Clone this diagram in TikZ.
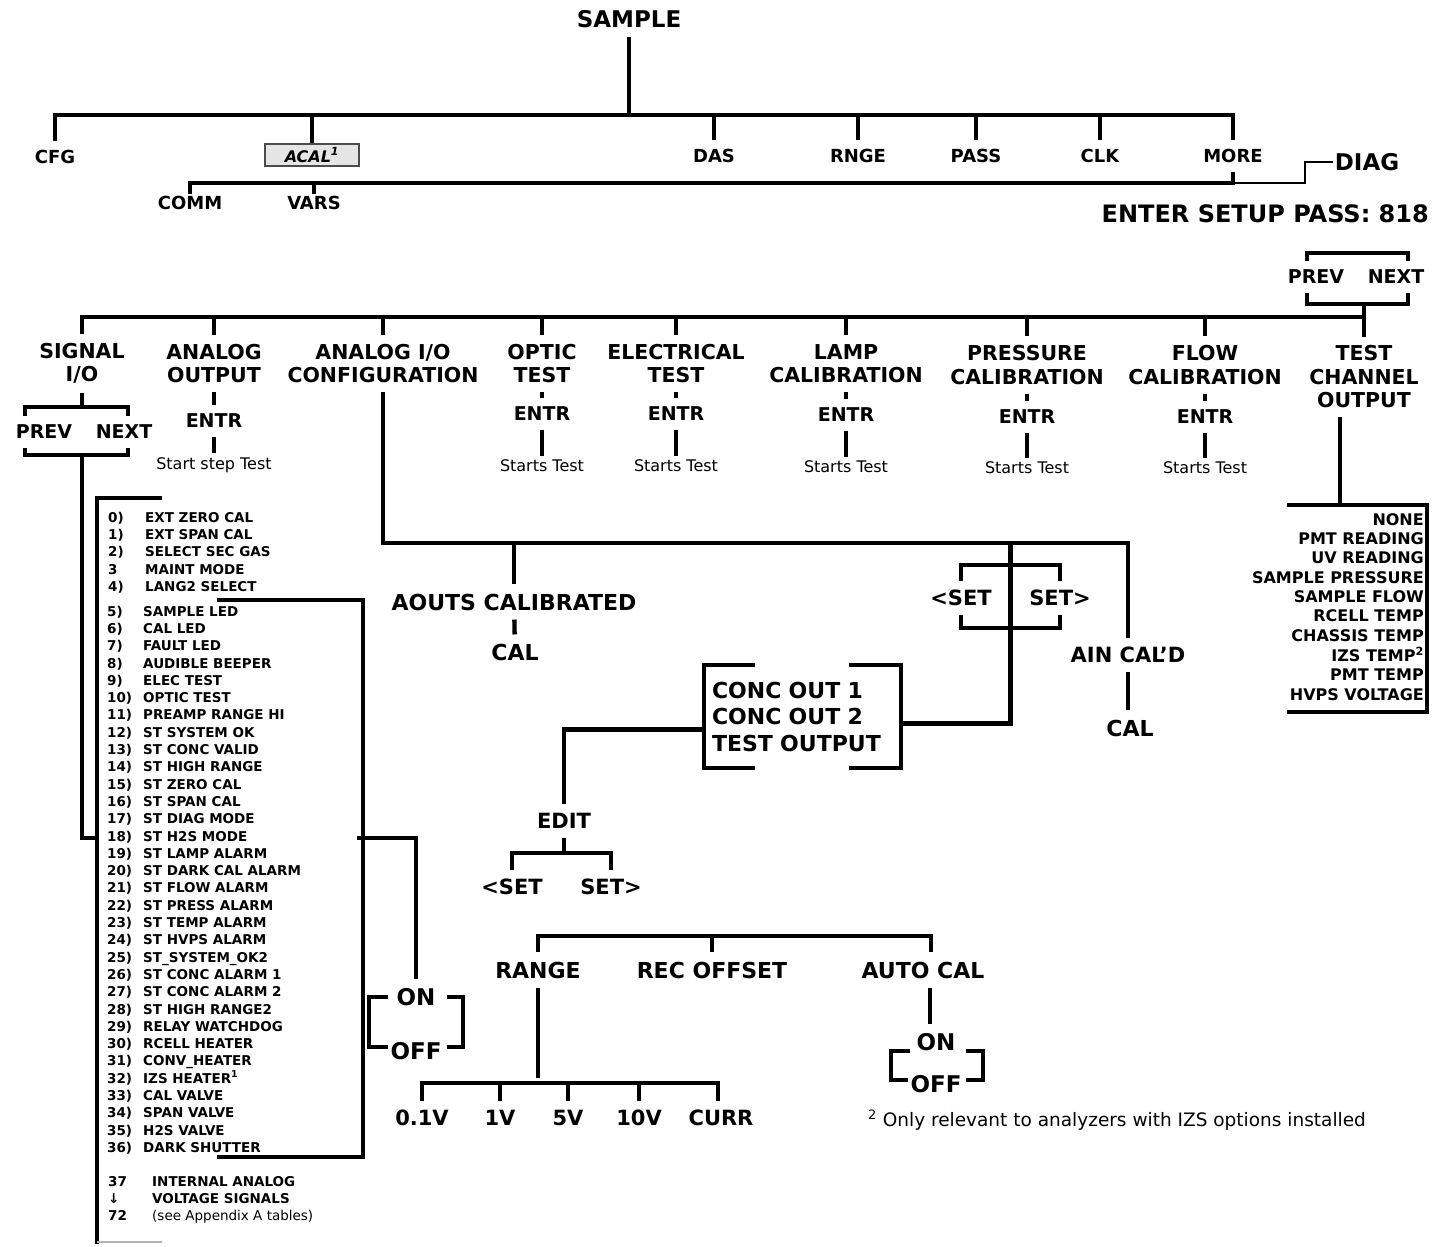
\documentclass[tikz,border=0pt]{standalone}
\usepackage{fontspec}
\setmainfont{DejaVu Sans}
\usetikzlibrary{positioning, calc}

\begin{document}
\begin{tikzpicture}[
    x=1pt, y=-1pt,
    lbl/.style={
        font=\fontsize{20.5}{23.5}\selectfont\bfseries,
        align=center,
        inner xsep=2pt,
        inner ysep=9pt
    },
    toplbl/.style={lbl, font=\fontsize{18}{21}\selectfont\bfseries},
    keylbl/.style={lbl, font=\fontsize{19}{22}\selectfont\bfseries},
    biglbl/.style={lbl, font=\fontsize{23}{26}\selectfont\bfseries},
    sublbl/.style={lbl, font=\fontsize{22}{26}\selectfont\bfseries},
    setlbl/.style={lbl, font=\fontsize{21}{24}\selectfont\bfseries},
    notelbl/.style={
        font=\fontsize{16}{19}\selectfont,
        align=center,
        inner xsep=2pt,
        inner ysep=4pt
    },
    acalbox/.style={
        rectangle,
        draw=gray!60!black,
        fill=gray!20,
        line width=1.2pt,
        minimum width=94pt,
        minimum height=22pt,
        inner sep=0pt,
        font=\fontsize{16}{18}\selectfont\bfseries\itshape
    },
    itemlist/.style={
        anchor=north west,
        inner sep=0pt,
        font=\fontsize{13.5}{17.3}\selectfont\bfseries
    },
    chanlist/.style={
        anchor=north east,
        inner sep=0pt,
        font=\fontsize{16}{19.33}\selectfont\bfseries
    },
    conclist/.style={
        font=\fontsize{22}{26.5}\selectfont\bfseries,
        align=left,
        text width=181pt,
        inner xsep=8pt,
        inner ysep=16.5pt
    },
    branch/.style={
        line width=4.3pt,
        color=black
    },
    thinbranch/.style={
        line width=2.2pt,
        color=black
    }
]

\fill[white] (0,0) rectangle (1439,1244);

% Levels of the horizontal bars
\coordinate (topbar) at (0,115);
\coordinate (midbar) at (0,183);
\coordinate (dbtop) at (0,253);
\coordinate (dbbot) at (0,304);
\coordinate (mainbar) at (0,317);
\coordinate (sbtop) at (0,407);
\coordinate (sbbot) at (0,455);
\coordinate (chbar) at (0,505);
\coordinate (cfgbar) at (0,543);
\coordinate (ebar) at (0,853);
\coordinate (rbar) at (0,936);
\coordinate (vbar) at (0,1083);

% Top menu
\node[biglbl] (sample) at (629,19) {SAMPLE};
\node[toplbl] (cfg) at (55,157) {CFG};
\node[acalbox] (acal) at (312,155) {ACAL\textsuperscript{1}};
\node[toplbl] (das) at (714,156) {DAS};
\node[toplbl] (rnge) at (858,156) {RNGE};
\node[toplbl] (pass) at (976,156) {PASS};
\node[toplbl] (clk) at (1100,156) {CLK};
\node[toplbl] (more) at (1233,156) {MORE};
\node[toplbl, inner ysep=2pt] (comm) at (190,203) {COMM};
\node[toplbl, inner ysep=2pt] (vars) at (314,203) {VARS};
\node[biglbl] (diag) at (1367,162) {DIAG};
\node[biglbl, anchor=east, font=\fontsize{24}{27}\selectfont\bfseries] (setup) at (1431,214) {ENTER SETUP PASS: 818};
\node[keylbl] (dprev) at (1316,277) {PREV};
\node[keylbl] (dnext) at (1396,277) {NEXT};

\draw[branch] (sample) -- (sample |- topbar);
\draw[branch] (cfg) -- (cfg |- topbar) -| (more);
\draw[branch] (acal) -- (acal |- topbar);
\draw[branch] (das) -- (das |- topbar);
\draw[branch] (rnge) -- (rnge |- topbar);
\draw[branch] (pass) -- (pass |- topbar);
\draw[branch] (clk) -- (clk |- topbar);
\draw[branch] (comm) -- (comm |- midbar) -- (more |- midbar) -- (more);
\draw[branch] (vars) -- (vars |- midbar);
\draw[thinbranch] (more |- midbar) -- ++(72,0) |- (diag.west);

% DIAG menu
\draw[branch] ([xshift=-9]dprev.north) -- ([xshift=-9]dprev.north |- dbtop) -- ([xshift=12]dnext.north |- dbtop) -- ([xshift=12]dnext.north);
\draw[branch] ([xshift=-9]dprev.south) -- ([xshift=-9]dprev.south |- dbbot) -- ([xshift=12]dnext.south |- dbbot) -- ([xshift=12]dnext.south);

\node[lbl] (sigio) at (82,363.5) {SIGNAL\\I/O};
\node[lbl] (aout) at (214,363.5) {ANALOG\\OUTPUT};
\node[lbl] (aiocfg) at (383,363.5) {ANALOG I/O\\CONFIGURATION};
\node[lbl] (optic) at (542,363.5) {OPTIC\\TEST};
\node[lbl] (elec) at (676,363.5) {ELECTRICAL\\TEST};
\node[lbl] (lamp) at (846,363.5) {LAMP\\CALIBRATION};
\node[lbl] (press) at (1027,365) {PRESSURE\\CALIBRATION};
\node[lbl] (flow) at (1205,365) {FLOW\\CALIBRATION};
\node[lbl] (testch) at (1364,377) {TEST\\CHANNEL\\OUTPUT};

\draw[branch] (sigio) -- (sigio |- mainbar) -| (testch);
\draw[branch] (aout) -- (aout |- mainbar);
\draw[branch] (aiocfg) -- (aiocfg |- mainbar);
\draw[branch] (optic) -- (optic |- mainbar);
\draw[branch] (elec) -- (elec |- mainbar);
\draw[branch] (lamp) -- (lamp |- mainbar);
\draw[branch] (press) -- (press |- mainbar);
\draw[branch] (flow) -- (flow |- mainbar);
\draw[branch] (testch |- dbbot) -- (testch |- mainbar);

% Test steps
\node[keylbl] (entrA) at (214,421) {ENTR};
\node[notelbl] (stepA) at (214,465) {Start step Test};
\node[keylbl] (entrO) at (542,414) {ENTR};
\node[notelbl] (stepO) at (542,466) {Starts Test};
\node[keylbl] (entrE) at (676,414) {ENTR};
\node[notelbl] (stepE) at (676,466) {Starts Test};
\node[keylbl] (entrL) at (846,415) {ENTR};
\node[notelbl] (stepL) at (846,467) {Starts Test};
\node[keylbl] (entrP) at (1027,417) {ENTR};
\node[notelbl] (stepP) at (1027,468) {Starts Test};
\node[keylbl] (entrF) at (1205,417) {ENTR};
\node[notelbl] (stepF) at (1205,468) {Starts Test};

\draw[branch] (aout) -- (entrA);
\draw[branch] (entrA) -- (stepA);
\draw[branch] (optic) -- (entrO);
\draw[branch] (entrO) -- (stepO);
\draw[branch] (elec) -- (entrE);
\draw[branch] (entrE) -- (stepE);
\draw[branch] (lamp) -- (entrL);
\draw[branch] (entrL) -- (stepL);
\draw[branch] (press) -- (entrP);
\draw[branch] (entrP) -- (stepP);
\draw[branch] (flow) -- (entrF);
\draw[branch] (entrF) -- (stepF);

% Test channel list
\node[chanlist] (chlist) at (1424,511.3) {\begin{tabular}{@{}r@{}}
NONE\\ PMT READING\\ UV READING\\ SAMPLE PRESSURE\\ SAMPLE FLOW\\
RCELL TEMP\\ CHASSIS TEMP\\ IZS TEMP\textsuperscript{2}\\ PMT TEMP\\ HVPS VOLTAGE
\end{tabular}};
\draw[branch] ([xshift=-24]testch.south) -- ([xshift=-24]testch.south |- chbar);
\draw[branch] (1287,505) -- (1427,505) -- (1427,712) -- (1287,712);

% Signal I/O
\node[keylbl] (sprev) at (44,432) {PREV};
\node[keylbl] (snext) at (124,432) {NEXT};
\draw[branch] (sigio) -- (sigio |- sbtop);
\draw[branch] ([xshift=-19]sprev.north) -- ([xshift=-19]sprev.north |- sbtop) -- ([xshift=4]snext.north |- sbtop) -- ([xshift=4]snext.north);
\draw[branch] ([xshift=-19]sprev.south) -- ([xshift=-19]sprev.south |- sbbot) -- ([xshift=4]snext.south |- sbbot) -- ([xshift=4]snext.south);

\node[itemlist] (sigtop) at (108,510) {\begin{tabular}{@{}p{37pt}@{}l@{}}
0) & EXT ZERO CAL\\ 1) & EXT SPAN CAL\\ 2) & SELECT SEC GAS\\ 3 & MAINT MODE\\ 4) & LANG2 SELECT
\end{tabular}};
\node[itemlist] (siglist) at (107,603.8) {\begin{tabular}{@{}p{36pt}@{}l@{}}
5) & SAMPLE LED\\ 6) & CAL LED\\ 7) & FAULT LED\\ 8) & AUDIBLE BEEPER\\
9) & ELEC TEST\\ 10) & OPTIC TEST\\ 11) & PREAMP RANGE HI\\ 12) & ST SYSTEM OK\\
13) & ST CONC VALID\\ 14) & ST HIGH RANGE\\ 15) & ST ZERO CAL\\ 16) & ST SPAN CAL\\
17) & ST DIAG MODE\\ 18) & ST H2S MODE\\ 19) & ST LAMP ALARM\\ 20) & ST DARK CAL ALARM\\
21) & ST FLOW ALARM\\ 22) & ST PRESS ALARM\\ 23) & ST TEMP ALARM\\ 24) & ST HVPS ALARM\\
25) & ST\_SYSTEM\_OK2\\ 26) & ST CONC ALARM 1\\ 27) & ST CONC ALARM 2\\ 28) & ST HIGH RANGE2\\
29) & RELAY WATCHDOG\\ 30) & RCELL HEATER\\ 31) & CONV\_HEATER\\ 32) & IZS HEATER\textsuperscript{1}\\
33) & CAL VALVE\\ 34) & SPAN VALVE\\ 35) & H2S VALVE\\ 36) & DARK SHUTTER
\end{tabular}};
\node[itemlist] (sigmore) at (108,1174) {\begin{tabular}{@{}p{44pt}@{}l@{}}
37 & INTERNAL ANALOG\\ ↓ & VOLTAGE SIGNALS\\ 72 & \mdseries (see Appendix A tables)
\end{tabular}};

\coordinate (lstL) at (97,838);
\coordinate (lstR) at (357,838);
\draw[branch] (162,498) -- (97,498) -- (97,1244);
\draw[gray!60, line width=1.5pt] (97,1242) -- (162,1242);
\draw[branch] (217,600) -- (363,600) -- (363,1157) -- (217,1157);
\draw[branch] (sigio |- sbbot) |- (lstL);

\node[sublbl, font=\fontsize{23}{26}\selectfont\bfseries] (onA) at (416,997) {ON};
\node[sublbl, font=\fontsize{23}{26}\selectfont\bfseries] (offA) at (416,1051) {OFF};
\draw[branch] (lstR) -| (onA);
\draw[branch] ([xshift=-28]onA.center) -- ([xshift=-47]onA.center) -- ([xshift=-47,yshift=4]offA.center) -- ([xshift=-28,yshift=4]offA.center);
\draw[branch] ([xshift=31]onA.center) -- ([xshift=47]onA.center) -- ([xshift=47,yshift=4]offA.center) -- ([xshift=31,yshift=4]offA.center);

% Analog I/O configuration
\node[sublbl] (aouts) at (514,602) {AOUTS CALIBRATED};
\node[sublbl] (calA) at (515,652) {CAL};
\node[setlbl] (aincal) at (1128,655) {AIN CAL’D};
\node[sublbl] (calB) at (1130,728) {CAL};
\node[setlbl] (setlA) at (961,598) {<SET};
\node[setlbl] (setrA) at (1060,598) {SET>};
\coordinate (setA) at ($(setlA)!0.5!(setrA)$);

\draw[branch] (aiocfg) -- (aiocfg |- cfgbar) -- (aincal |- cfgbar) -- (aincal);
\draw[branch] (aouts) -- (aouts |- cfgbar);
\draw[branch] (aouts) -- (calA);
\draw[branch] (aincal) -- (aincal |- calB.north);
\draw[branch] (setA |- cfgbar) -- ([yshift=-33]setA);
\draw[branch] (setlA) -- ++(0,-33) -| (setrA);
\draw[branch] (setlA) -- ++(0,30) -| (setrA);

\node[conclist] (conc) at (802.5,716.5) {CONC OUT 1\\CONC OUT 2\\TEST OUTPUT};
\draw[branch] ([xshift=51]conc.north west) -| (conc.south west) -- ++(51,0);
\draw[branch] ([xshift=-52]conc.north east) -| (conc.south east) -- ++(-52,0);
\draw[branch] ([yshift=30]setA) |- ([yshift=-7]conc.east);

\node[setlbl] (edit) at (564,821) {EDIT};
\node[setlbl] (setlB) at (512,887) {<SET};
\node[setlbl] (setrB) at (611,887) {SET>};
\draw[branch] ([yshift=-13]conc.west) -| (edit);
\draw[branch] (edit) -- (edit |- ebar);
\draw[branch] (setlB) -- ++(0,-34) -| (setrB);

% Range, offset, auto cal
\node[sublbl] (range) at (538,970) {RANGE};
\node[sublbl] (recoff) at (712,970) {REC OFFSET};
\node[sublbl] (autocal) at (923,970) {AUTO CAL};
\draw[branch] (range) -- (range |- rbar) -| ([xshift=8]autocal.north);
\draw[branch] (recoff) -- (recoff |- rbar);

\node[setlbl] (v01) at (422,1118) {0.1V};
\node[setlbl] (v1) at (500,1118) {1V};
\node[setlbl] (v5) at (568,1118) {5V};
\node[setlbl] (v10) at (639,1118) {10V};
\node[setlbl] (vcurr) at (721,1118) {CURR};
\draw[branch] (range) -- ([yshift=5]range |- vbar);
\draw[branch] (v01) -- (v01 |- vbar) -| ([xshift=-3]vcurr.north);
\draw[branch] (v1) -- (v1 |- vbar);
\draw[branch] (v5) -- (v5 |- vbar);
\draw[branch] (v10) -- (v10 |- vbar);

\node[sublbl, font=\fontsize{23}{26}\selectfont\bfseries] (onB) at (936,1042) {ON};
\node[sublbl, font=\fontsize{23}{26}\selectfont\bfseries] (offB) at (936,1084) {OFF};
\draw[branch] ([xshift=7]autocal.south) -- ([xshift=7]autocal.south |- onB.north);
\draw[branch] ([xshift=-26,yshift=-9]onB.center) -- ([xshift=-45,yshift=-9]onB.center) -- ([xshift=-45,yshift=4]offB.center) -- ([xshift=-28,yshift=4]offB.center);
\draw[branch] ([xshift=30,yshift=-9]onB.center) -- ([xshift=47,yshift=-9]onB.center) -- ([xshift=47,yshift=4]offB.center) -- ([xshift=30,yshift=4]offB.center);

% Footnote
\node[notelbl, anchor=west, font=\fontsize{18.5}{21}\selectfont] (foot) at (866,1120) {\textsuperscript{2} Only relevant to analyzers with IZS options installed};

\end{tikzpicture}
\end{document}
